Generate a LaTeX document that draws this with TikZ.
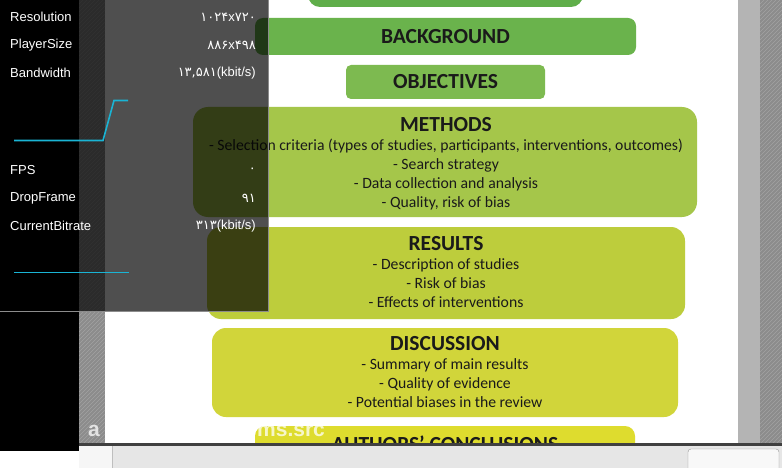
\documentclass[tikz,border=0pt]{standalone}
\usepackage{fontspec}
\setmainfont{Carlito}
\newfontfamily\uifont{Liberation Sans}
\newfontfamily\digfont{DejaVu Sans}
\definecolor{gA}{HTML}{5FAE4A}
\definecolor{gB}{HTML}{6AB34C}
\definecolor{gC}{HTML}{7DBA50}
\definecolor{gD}{HTML}{A5C64A}
\definecolor{gE}{HTML}{BDCD3C}
\definecolor{gF}{HTML}{D1D53A}
\definecolor{gG}{HTML}{DEDC2E}
\definecolor{txt}{HTML}{1A1A1A}
\definecolor{stripebg}{HTML}{8C8C8C}
\definecolor{stripeln}{HTML}{A2A2A2}
\definecolor{cyanln}{HTML}{1AB4D4}
\definecolor{band}{HTML}{B4B4B4}
\definecolor{barbg}{HTML}{E6E6E6}
\definecolor{barlt}{HTML}{F6F6F6}
\definecolor{barln}{HTML}{BEBEBE}
\definecolor{boxln}{HTML}{969696}
\definecolor{boxbg}{HTML}{F8F8F8}
\definecolor{darkln}{HTML}{404040}
\definecolor{ovln}{HTML}{8C8C8C}
\tikzset{
  sect/.style={rectangle, rounded corners=12pt, inner sep=0pt},
  ttl/.style={font=\bfseries\fontsize{21.5}{21.5}\selectfont, text=txt, inner sep=0pt},
  body/.style={font=\fontsize{15.7}{19}\selectfont, text=txt, align=center, inner sep=0pt},
  lab/.style={font=\uifont\fontsize{13}{13}\selectfont, text=white, anchor=west, inner sep=0pt},
  val/.style={font=\uifont\fontsize{13}{13}\selectfont, text=white, anchor=east, inner sep=0pt},
  wm/.style={font=\uifont\bfseries\fontsize{21}{21}\selectfont, text=white, opacity=0.75, anchor=west, inner sep=0pt},
  graph/.style={draw=cyanln, line width=1.6pt}
}
\begin{document}
\begin{tikzpicture}[x=1pt,y=-1pt]
\useasboundingbox (0,0) rectangle (782,468);
% backgrounds
\fill[black] (0,0) rectangle (79,451);
\fill[white] (0,451) rectangle (79,468);
\fill[white] (105,0) rectangle (738,445);
\fill[band] (738,0) rectangle (760,445);
\begin{scope}
  \clip (79,0) rectangle (105,445);
  \fill[stripebg] (79,0) rectangle (105,445);
  \foreach \i in {0,4,...,480} \draw[stripeln, line width=0.6pt] (79,\i) -- (105,\i-26);
\end{scope}
\begin{scope}
  \clip (760,0) rectangle (782,445);
  \fill[stripebg] (760,0) rectangle (782,445);
  \foreach \i in {0,4,...,480} \draw[stripeln, line width=0.6pt] (760,\i) -- (782,\i-22);
\end{scope}
% bottom bar
\fill[barbg] (79,445) rectangle (782,468);
\fill[barlt] (79,445) rectangle (112,468);
\draw[barln, line width=0.8pt] (112,446) -- (112,468);
\draw[boxln, fill=boxbg, rounded corners=3pt] (688,469) -- (688,449) -- (779,449) -- (779,469);
% page boxes
\node[sect, fill=gA, minimum width=275pt, minimum height=30pt] (top) at (445.5,-8) {};
\node[sect, fill=gB, minimum width=381pt, minimum height=37pt, rounded corners=8pt] (bg) at (445.5,36.5) {};
\node[ttl] (bgt) at (bg.center) {BACKGROUND};
\node[sect, fill=gC, minimum width=199pt, minimum height=34pt, rounded corners=5pt] (obj) at (445.5,82) {};
\node[ttl] (objt) at (obj.center) {OBJECTIVES};
\node[sect, fill=gD, minimum width=504pt, minimum height=110pt, rounded corners=15pt] (meth) at (445,162) {};
\node[ttl] (metht) at (446,125) {METHODS};
\node[body] (methb) at (446,174.5) {- Selection criteria (types of studies, participants, interventions, outcomes)\\- Search strategy\\- Data collection and analysis\\- Quality, risk of bias};
\node[sect, fill=gE, minimum width=478pt, minimum height=92pt, rounded corners=14pt] (res) at (446,273) {};
\node[ttl] (rest) at (446,243.5) {RESULTS};
\node[body] (resb) at (446,283) {- Description of studies\\- Risk of bias\\- Effects of interventions};
\node[sect, fill=gF, minimum width=466pt, minimum height=89pt, rounded corners=14pt] (disc) at (445,372.5) {};
\node[ttl] (disct) at (445,343.5) {DISCUSSION};
\node[body] (discb) at (445,383) {- Summary of main results\\- Quality of evidence\\- Potential biases in the review};
\begin{scope}
  \clip (0,0) rectangle (782,443);
  \node[sect, fill=gG, minimum width=380pt, minimum height=40pt, rounded corners=10pt] (conc) at (445,446) {};
  \node[ttl] (conct) at (445,444) {AUTHORS’ CONCLUSIONS};
\end{scope}
\fill[darkln] (79,443) rectangle (782,445.5);
% watermark
\node[wm] (wma) at (88,431) {a};
\node[wm] (wmb) at (257,431) {ms.src};
% overlay
\fill[black, opacity=0.69] (0,0) rectangle (268,311);
\draw[ovln, line width=0.8pt] (0,311) -- (268,311) -- (268,0);
\node[lab] (l1) at (10,17) {Resolution};
\node[lab] (l2) at (10,45) {PlayerSize};
\node[lab] (l3) at (10,73) {Bandwidth};
\node[lab] (l4) at (10,170) {FPS};
\node[lab] (l5) at (10,198) {DropFrame};
\node[lab] (l6) at (10,226) {CurrentBitrate};
\node[val] (v1) at (256,17) {{\digfont ۱۰۲۴}x{\digfont ۷۲۰}};
\node[val] (v2) at (256,45) {{\digfont ۸۸۶}x{\digfont ۴۹۸}};
\node[val] (v3) at (256,73) {{\digfont ۱۳,۵۸۱}(kbit/s)};
\node[val] (v4) at (256,170) {{\digfont ۰}};
\node[val] (v5) at (256,198) {{\digfont ۹۱}};
\node[val] (v6) at (256,226) {{\digfont ۳۱۳}(kbit/s)};
\coordinate (g1) at (14,140.5);
\coordinate (g2) at (103,140.5);
\coordinate (g3) at (114,100.5);
\coordinate (g4) at (128,100.5);
\draw[graph] (g1) -- (g2) -- (g3) -- (g4);
\coordinate (h1) at (14,272.5);
\coordinate (h2) at (129,272.5);
\draw[graph] (h1) -- (h2);
\end{tikzpicture}
\end{document}
